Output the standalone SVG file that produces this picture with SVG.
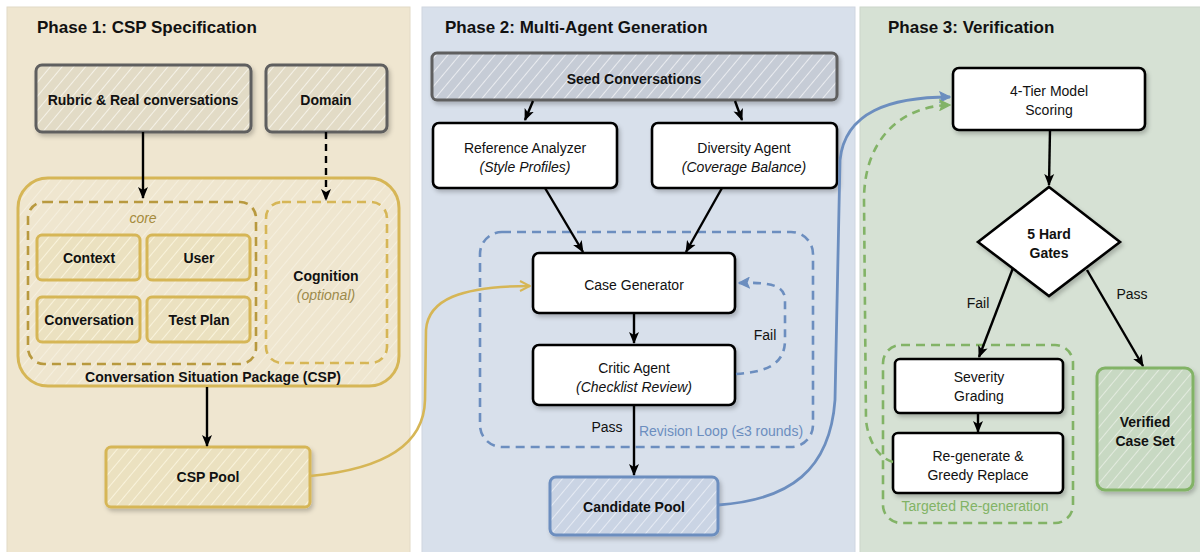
<svg xmlns="http://www.w3.org/2000/svg" width="1200" height="552" viewBox="0 0 1200 552">
<defs>
  <style>
    text{font-family:"Liberation Sans","DejaVu Sans",sans-serif;fill:#111;}
    .title{font-size:17px;font-weight:bold;}
    .lbl{font-size:14px;text-anchor:middle;}
    .b{font-weight:bold;}
    .it{font-style:italic;}
    .small{font-size:14px;text-anchor:middle;}
    .white{fill:#ffffff;stroke:#000;stroke-width:2.6;}
    .gray{fill:url(#hGray);stroke:#5e5e5e;stroke-width:3;}
    .seed{fill:url(#hSeed);stroke:#5e5e5e;stroke-width:3;}
    .gold{fill:url(#hGold);stroke:#d6b656;stroke-width:3;}
    .blue{fill:url(#hBlue);stroke:#6c8ebf;stroke-width:3;}
    .green{fill:url(#hGreen);stroke:#82b366;stroke-width:3;}
    .edge{fill:none;stroke:#000;stroke-width:2.4;marker-end:url(#aBlack);}
  </style>
  <pattern id="hGray" patternUnits="userSpaceOnUse" width="9" height="9" patternTransform="rotate(40)">
    <rect width="9" height="9" fill="#e2dbc6"/><line x1="0" y1="0" x2="0" y2="9" stroke="#f8f5ec" stroke-width="1.8"/>
  </pattern>
  <pattern id="hSeed" patternUnits="userSpaceOnUse" width="9" height="9" patternTransform="rotate(40)">
    <rect width="9" height="9" fill="#c6ccd6"/><line x1="0" y1="0" x2="0" y2="9" stroke="#eef0f4" stroke-width="1.8"/>
  </pattern>
  <pattern id="hGold" patternUnits="userSpaceOnUse" width="9" height="9" patternTransform="rotate(40)">
    <rect width="9" height="9" fill="#ebe1c0"/><line x1="0" y1="0" x2="0" y2="9" stroke="#fbf5e0" stroke-width="1.8"/>
  </pattern>
  <pattern id="hLight" patternUnits="userSpaceOnUse" width="9" height="9" patternTransform="rotate(40)">
    <rect width="9" height="9" fill="#efe6cf"/><line x1="0" y1="0" x2="0" y2="9" stroke="#f8f2e3" stroke-width="1.5"/>
  </pattern>
  <pattern id="hBlue" patternUnits="userSpaceOnUse" width="9" height="9" patternTransform="rotate(40)">
    <rect width="9" height="9" fill="#cad4e4"/><line x1="0" y1="0" x2="0" y2="9" stroke="#eaeef6" stroke-width="1.8"/>
  </pattern>
  <pattern id="hGreen" patternUnits="userSpaceOnUse" width="9" height="9" patternTransform="rotate(40)">
    <rect width="9" height="9" fill="#c8d9c3"/><line x1="0" y1="0" x2="0" y2="9" stroke="#e6eee3" stroke-width="1.8"/>
  </pattern>
  <filter id="sh" x="-10%" y="-10%" width="130%" height="140%">
    <feDropShadow dx="2" dy="3" stdDeviation="2" flood-color="#000" flood-opacity="0.22"/>
  </filter>
  <marker id="aBlack" markerUnits="userSpaceOnUse" markerWidth="12" markerHeight="12" viewBox="0 0 12 12" refX="11" refY="6" orient="auto">
    <path d="M0,1 L12,6 L0,11 L3,6 z" fill="#000"/>
  </marker>
  <marker id="aGold" markerUnits="userSpaceOnUse" markerWidth="12" markerHeight="12" viewBox="0 0 12 12" refX="11" refY="6" orient="auto">
    <path d="M1,1 L11,6 L1,11" fill="none" stroke="#d6b656" stroke-width="2"/>
  </marker>
  <marker id="aBlue" markerUnits="userSpaceOnUse" markerWidth="12" markerHeight="12" viewBox="0 0 12 12" refX="11" refY="6" orient="auto">
    <path d="M1,1 L11,6 L1,11 L3,6 z" fill="#6c8ebf" stroke="#6c8ebf" stroke-width="1.2"/>
  </marker>
  <marker id="aGreen" markerUnits="userSpaceOnUse" markerWidth="12" markerHeight="12" viewBox="0 0 12 12" refX="11" refY="6" orient="auto">
    <path d="M1,1 L11,6 L1,11 L3,6 z" fill="#82b366" stroke="#82b366" stroke-width="1.2"/>
  </marker>
</defs>

<rect width="1200" height="552" fill="#ffffff"/>

<!-- Panels -->
<g id="panel1">
  <rect x="7" y="7" width="403" height="560" fill="#efe6d0" stroke="#e2dac6" stroke-width="1"/>
  <text x="37" y="33" class="title">Phase 1: CSP Specification</text>
</g>
<g id="panel2">
  <rect x="422" y="7" width="433" height="560" fill="#d8e0eb" stroke="#cfd6e0" stroke-width="1"/>
  <text x="445" y="33" class="title">Phase 2: Multi-Agent Generation</text>
</g>
<g id="panel3">
  <rect x="860" y="7" width="345" height="560" fill="#d6e1d4" stroke="#ccd6ca" stroke-width="1"/>
  <text x="888" y="33" class="title">Phase 3: Verification</text>
</g>

<!-- Phase 1 nodes -->
<g id="rubric">
  <rect x="36" y="65" width="215" height="67" rx="6" class="gray" filter="url(#sh)"/>
  <text x="143" y="105" class="lbl b">Rubric &amp; Real conversations</text>
</g>
<g id="domain">
  <rect x="266" y="65" width="121" height="67" rx="6" class="gray" filter="url(#sh)"/>
  <text x="326" y="105" class="lbl b">Domain</text>
</g>
<g id="csp">
  <rect x="18" y="178" width="381" height="208" rx="30" fill="url(#hLight)" stroke="#d6b656" stroke-width="3"/>
  <text x="213" y="382" class="lbl b">Conversation Situation Package (CSP)</text>
</g>
<g id="core">
  <rect x="28" y="202" width="228" height="162" rx="16" fill="none" stroke="#b8993e" stroke-width="2.6" stroke-dasharray="9 6"/>
  <text x="143" y="223" class="small it" style="fill:#a58b3c">core</text>
</g>
<g id="context">
  <rect x="37" y="235" width="103" height="45" rx="5" class="gold"/>
  <text x="89" y="263" class="lbl b">Context</text>
</g>
<g id="user">
  <rect x="147" y="235" width="103" height="45" rx="5" class="gold"/>
  <text x="199" y="263" class="lbl b">User</text>
</g>
<g id="conversation">
  <rect x="37" y="297" width="103" height="45" rx="5" class="gold"/>
  <text x="89" y="325" class="lbl b">Conversation</text>
</g>
<g id="testplan">
  <rect x="147" y="297" width="103" height="45" rx="5" class="gold"/>
  <text x="199" y="325" class="lbl b">Test Plan</text>
</g>
<g id="cognition">
  <rect x="266" y="202" width="121" height="161" rx="16" fill="url(#hLight)" stroke="#d6b656" stroke-width="2.6" stroke-dasharray="9 6"/>
  <text x="326" y="281" class="lbl b">Cognition</text>
  <text x="326" y="300" class="small it" style="fill:#9c8a4c">(optional)</text>
</g>
<g id="csppool">
  <rect x="106" y="447" width="204" height="60" rx="5" class="gold" filter="url(#sh)"/>
  <text x="208" y="482" class="lbl b">CSP Pool</text>
</g>

<!-- Phase 2 nodes -->
<g id="seed">
  <rect x="432" y="53" width="405" height="47" rx="5" class="seed" filter="url(#sh)"/>
  <text x="634" y="84" class="lbl b">Seed Conversations</text>
</g>
<g id="refanalyzer">
  <rect x="433" y="123" width="184" height="65" rx="6" class="white" filter="url(#sh)"/>
  <text x="525" y="153" class="lbl">Reference Analyzer</text>
  <text x="525" y="172" class="lbl it">(Style Profiles)</text>
</g>
<g id="diversity">
  <rect x="652" y="123" width="185" height="65" rx="6" class="white" filter="url(#sh)"/>
  <text x="744" y="153" class="lbl">Diversity Agent</text>
  <text x="744" y="172" class="lbl it">(Coverage Balance)</text>
</g>
<g id="revisionloop">
  <rect x="480" y="232" width="333" height="215" rx="22" fill="none" stroke="#6c8ebf" stroke-width="2.6" stroke-dasharray="9 6"/>
  <text x="721" y="436" class="small" style="fill:#6c8ebf">Revision Loop (≤3 rounds)</text>
</g>
<g id="casegen">
  <rect x="533" y="253" width="202" height="60" rx="6" class="white" filter="url(#sh)"/>
  <text x="634" y="290" class="lbl">Case Generator</text>
</g>
<g id="critic">
  <rect x="533" y="345" width="202" height="60" rx="6" class="white" filter="url(#sh)"/>
  <text x="634" y="373" class="lbl">Critic Agent</text>
  <text x="634" y="392" class="lbl it">(Checklist Review)</text>
</g>
<g id="candidatepool">
  <rect x="550" y="477" width="168" height="58" rx="6" class="blue" filter="url(#sh)"/>
  <text x="634" y="512" class="lbl b">Candidate Pool</text>
</g>

<!-- Phase 3 nodes -->
<g id="scoring">
  <rect x="953" y="68" width="192" height="62" rx="6" class="white" filter="url(#sh)"/>
  <text x="1049" y="96" class="lbl">4-Tier Model</text>
  <text x="1049" y="115" class="lbl">Scoring</text>
</g>
<g id="gates">
  <polygon points="1049,187 1120,242 1049,296 978,242" class="white" filter="url(#sh)"/>
  <text x="1049" y="239" class="lbl b">5 Hard</text>
  <text x="1049" y="258" class="lbl b">Gates</text>
</g>
<g id="targeted">
  <rect x="883" y="345" width="190" height="178" rx="18" fill="none" stroke="#82b366" stroke-width="2.6" stroke-dasharray="9 6"/>
  <text x="975" y="511" class="small" style="fill:#82b366">Targeted Re-generation</text>
</g>
<g id="severity">
  <rect x="895" y="359" width="168" height="54" rx="5" class="white" filter="url(#sh)"/>
  <text x="979" y="382" class="lbl">Severity</text>
  <text x="979" y="401" class="lbl">Grading</text>
</g>
<g id="regenerate">
  <rect x="893" y="433" width="170" height="60" rx="5" class="white" filter="url(#sh)"/>
  <text x="978" y="461" class="lbl">Re-generate &amp;</text>
  <text x="978" y="480" class="lbl">Greedy Replace</text>
</g>
<g id="verified">
  <rect x="1097" y="368" width="96" height="122" rx="8" class="green" filter="url(#sh)"/>
  <text x="1145" y="427" class="lbl b">Verified</text>
  <text x="1145" y="446" class="lbl b">Case Set</text>
</g>

<!-- Connectors -->
<g id="connectors">
  <path d="M143,132 L143,198" class="edge"/>
  <path d="M326,132 L326,200" class="edge" stroke-dasharray="7 5"/>
  <path d="M207,387 L207,446" class="edge"/>
  <path d="M310,476 C375,470 424,450 425,400 L426,330 C428,300 460,286 530,286" fill="none" stroke="#d6b656" stroke-width="2.6" marker-end="url(#aGold)"/>

  <path d="M533,101 L525,120" class="edge"/>
  <path d="M735,101 L742,120" class="edge"/>
  <path d="M545,188 L583,252" class="edge"/>
  <path d="M722,188 L686,252" class="edge"/>
  <path d="M634,313 L634,343" class="edge"/>
  <path d="M736,374 C760,372 785,368 785,340 L785,300 C785,285 770,282 739,283" fill="none" stroke="#6c8ebf" stroke-width="2.6" stroke-dasharray="8 6" marker-end="url(#aBlue)"/>
  <text x="765" y="340" class="small">Fail</text>
  <path d="M634,405 L634,475" class="edge"/>
  <text x="607" y="432" class="small">Pass</text>
  <path d="M718,505 C790,500 830,470 835,400 L840,160 C845,112 890,97 950,97" fill="none" stroke="#6c8ebf" stroke-width="2.8" marker-end="url(#aBlue)"/>

  <path d="M1050,130 L1049,185" class="edge"/>
  <path d="M1013,268 L979,357" class="edge"/>
  <text x="978" y="308" class="small">Fail</text>
  <path d="M1087,270 L1143,366" class="edge"/>
  <text x="1132" y="299" class="small">Pass</text>
  <path d="M978,413 L978,432" class="edge"/>
  <path d="M893,462 C878,458 868,440 866,420 L864,200 C864,140 900,106 950,105" fill="none" stroke="#82b366" stroke-width="2.6" stroke-dasharray="8 6" marker-end="url(#aGreen)"/>
</g>
</svg>
